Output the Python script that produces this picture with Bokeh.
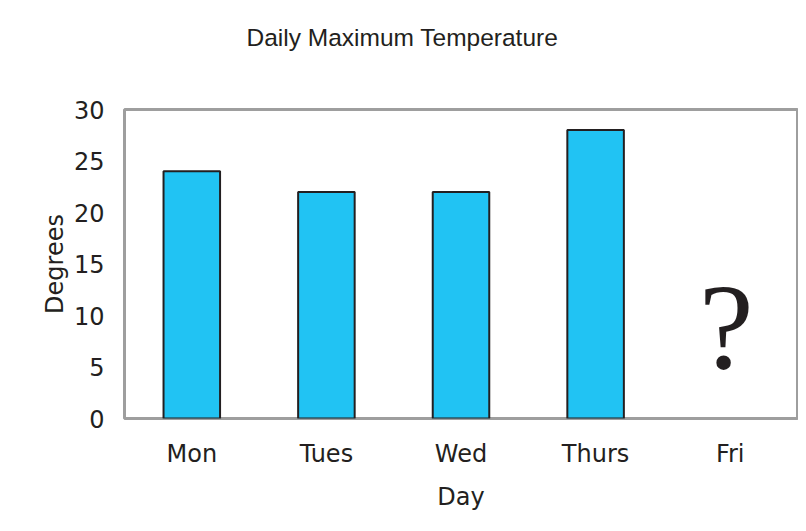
from bokeh.plotting import figure
from bokeh.models import FixedTicker, Title
from bokeh.core.properties import value
from bokeh.embed import file_html
from bokeh.resources import INLINE

days = ["Mon", "Tues", "Wed", "Thurs", "Fri"]
bar_days = ["Mon", "Tues", "Wed", "Thurs"]
temps = [24, 22, 22, 28]
y_ticks = [0, 5, 10, 15, 20, 25, 30]
unknown_day = ["Fri"]
unknown_mark = ["?"]
title_text = "Daily Maximum Temperature"

p = figure(x_range=days, y_range=(0, 30), width=798, height=523,
           output_backend="svg", toolbar_location=None,
           min_border_left=124, min_border_right=1,
           min_border_top=109, min_border_bottom=105)

p.vbar(x=bar_days, top=temps, width=0.42, fill_color="#21C3F3",
       line_color="#231F20", line_width=2)

p.text(x=unknown_day, y=[8.9], text=unknown_mark, x_offset=-4,
       text_font=value("Liberation Serif"), text_font_size="123px",
       text_align="center", text_baseline="middle", text_color="#231F20")

# spacer between title and frame
p.add_layout(Title(text=" ", text_font_size="10px", standoff=26), "above")
p.title = Title(text=title_text, align="left", offset=122,
                text_font="Liberation Sans", text_font_size="24.5px",
                text_font_style="normal", text_color="#231F20", standoff=40)

p.outline_line_color = "#9E9E9E"
p.outline_line_width = 3
p.xgrid.grid_line_color = None
p.ygrid.grid_line_color = None
p.background_fill_color = "white"
p.border_fill_color = "white"

p.yaxis.ticker = FixedTicker(ticks=y_ticks)
p.yaxis.axis_label = "Degrees"
p.xaxis.axis_label = "Day"
for ax in (p.xaxis[0], p.yaxis[0]):
    ax.axis_line_color = None
    ax.major_tick_line_color = None
    ax.minor_tick_line_color = None
    ax.major_tick_out = 0
    ax.major_tick_in = 0
    ax.minor_tick_out = 0
    ax.major_label_text_font = "DejaVu Sans"
    ax.major_label_text_font_size = "24px"
    ax.major_label_text_color = "#231F20"
    ax.axis_label_text_font = "DejaVu Sans"
    ax.axis_label_text_font_size = "24px"
    ax.axis_label_text_font_style = "normal"
    ax.axis_label_text_color = "#231F20"

p.yaxis.major_label_standoff = 20
p.yaxis.axis_label_standoff = 2
p.xaxis.major_label_standoff = 21
p.xaxis.axis_label_standoff = 12

open("out.html", "w").write(file_html(p, INLINE))
